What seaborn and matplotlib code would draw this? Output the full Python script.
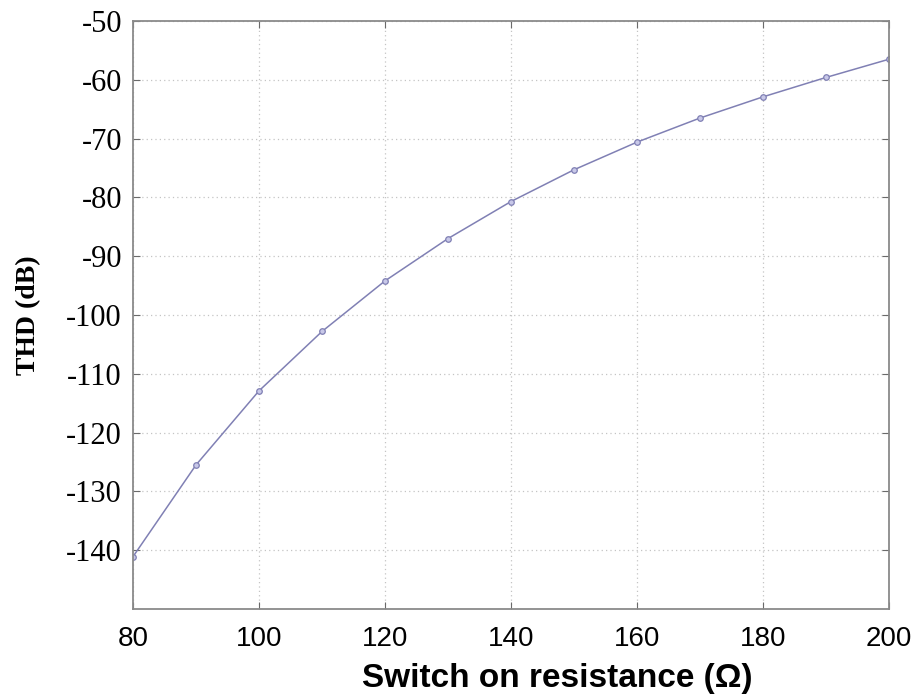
import matplotlib
matplotlib.use("Agg")
import matplotlib.pyplot as plt
import seaborn as sns
import pandas as pd

resistance = [80, 90, 100, 110, 120, 130, 140, 150, 160, 170, 180, 190, 200]
thd_db = [-141.1, -125.5, -112.9, -102.8, -94.2, -87.0, -80.7, -75.3, -70.6, -66.5, -62.9, -59.6, -56.5]
x_ticks = [80, 100, 120, 140, 160, 180, 200]
y_ticks = [-50, -60, -70, -80, -90, -100, -110, -120, -130, -140]

df = pd.DataFrame({"R": resistance, "THD": thd_db})

sns.set_style("white")
plt.rcParams["text.color"] = "black"
plt.rcParams["axes.labelcolor"] = "black"
plt.rcParams["xtick.color"] = "black"
plt.rcParams["ytick.color"] = "black"

fig = plt.figure(figsize=(9.24, 6.98), dpi=100)
ax = fig.add_axes([133/924, 1-609/698, (889-133)/924, (609-21)/698])

line_color = "#8080b4"
sns.lineplot(data=df, x="R", y="THD", ax=ax, color=line_color, linewidth=1.1,
             marker="o", markersize=4, markerfacecolor="#c8c8e8",
             markeredgecolor=line_color, markeredgewidth=0.9)

ax.set_xlim(80, 200)
ax.set_ylim(-150, -50)
ax.set_xticks(x_ticks)
ax.set_yticks(y_ticks)
ax.set_xticklabels([str(v) for v in x_ticks], family="Liberation Sans", fontsize=20)
ax.set_yticklabels([str(v) for v in y_ticks], family="Liberation Serif", fontsize=22)

ax.grid(True, linestyle=(0, (1, 2.5)), color="#c4c4c4", linewidth=0.9)
for s in ax.spines.values():
    s.set_color("#8a8a8a")
    s.set_linewidth(1.3)
ax.tick_params(axis="both", direction="in", length=5, color="#6a6a6a",
               top=True, right=True, left=True, bottom=True, pad=8)
ax.tick_params(axis="x", pad=12)

ax.set_xlabel("Switch on resistance (\u03a9)", family="Liberation Sans", fontsize=24,
              fontweight="bold")
ax.xaxis.set_label_coords(0.561, -0.092)
ax.set_ylabel("THD (dB)", family="Liberation Serif", fontsize=20, fontweight="bold",
              labelpad=18)

fig.savefig("out.png", dpi=100, facecolor="white")
